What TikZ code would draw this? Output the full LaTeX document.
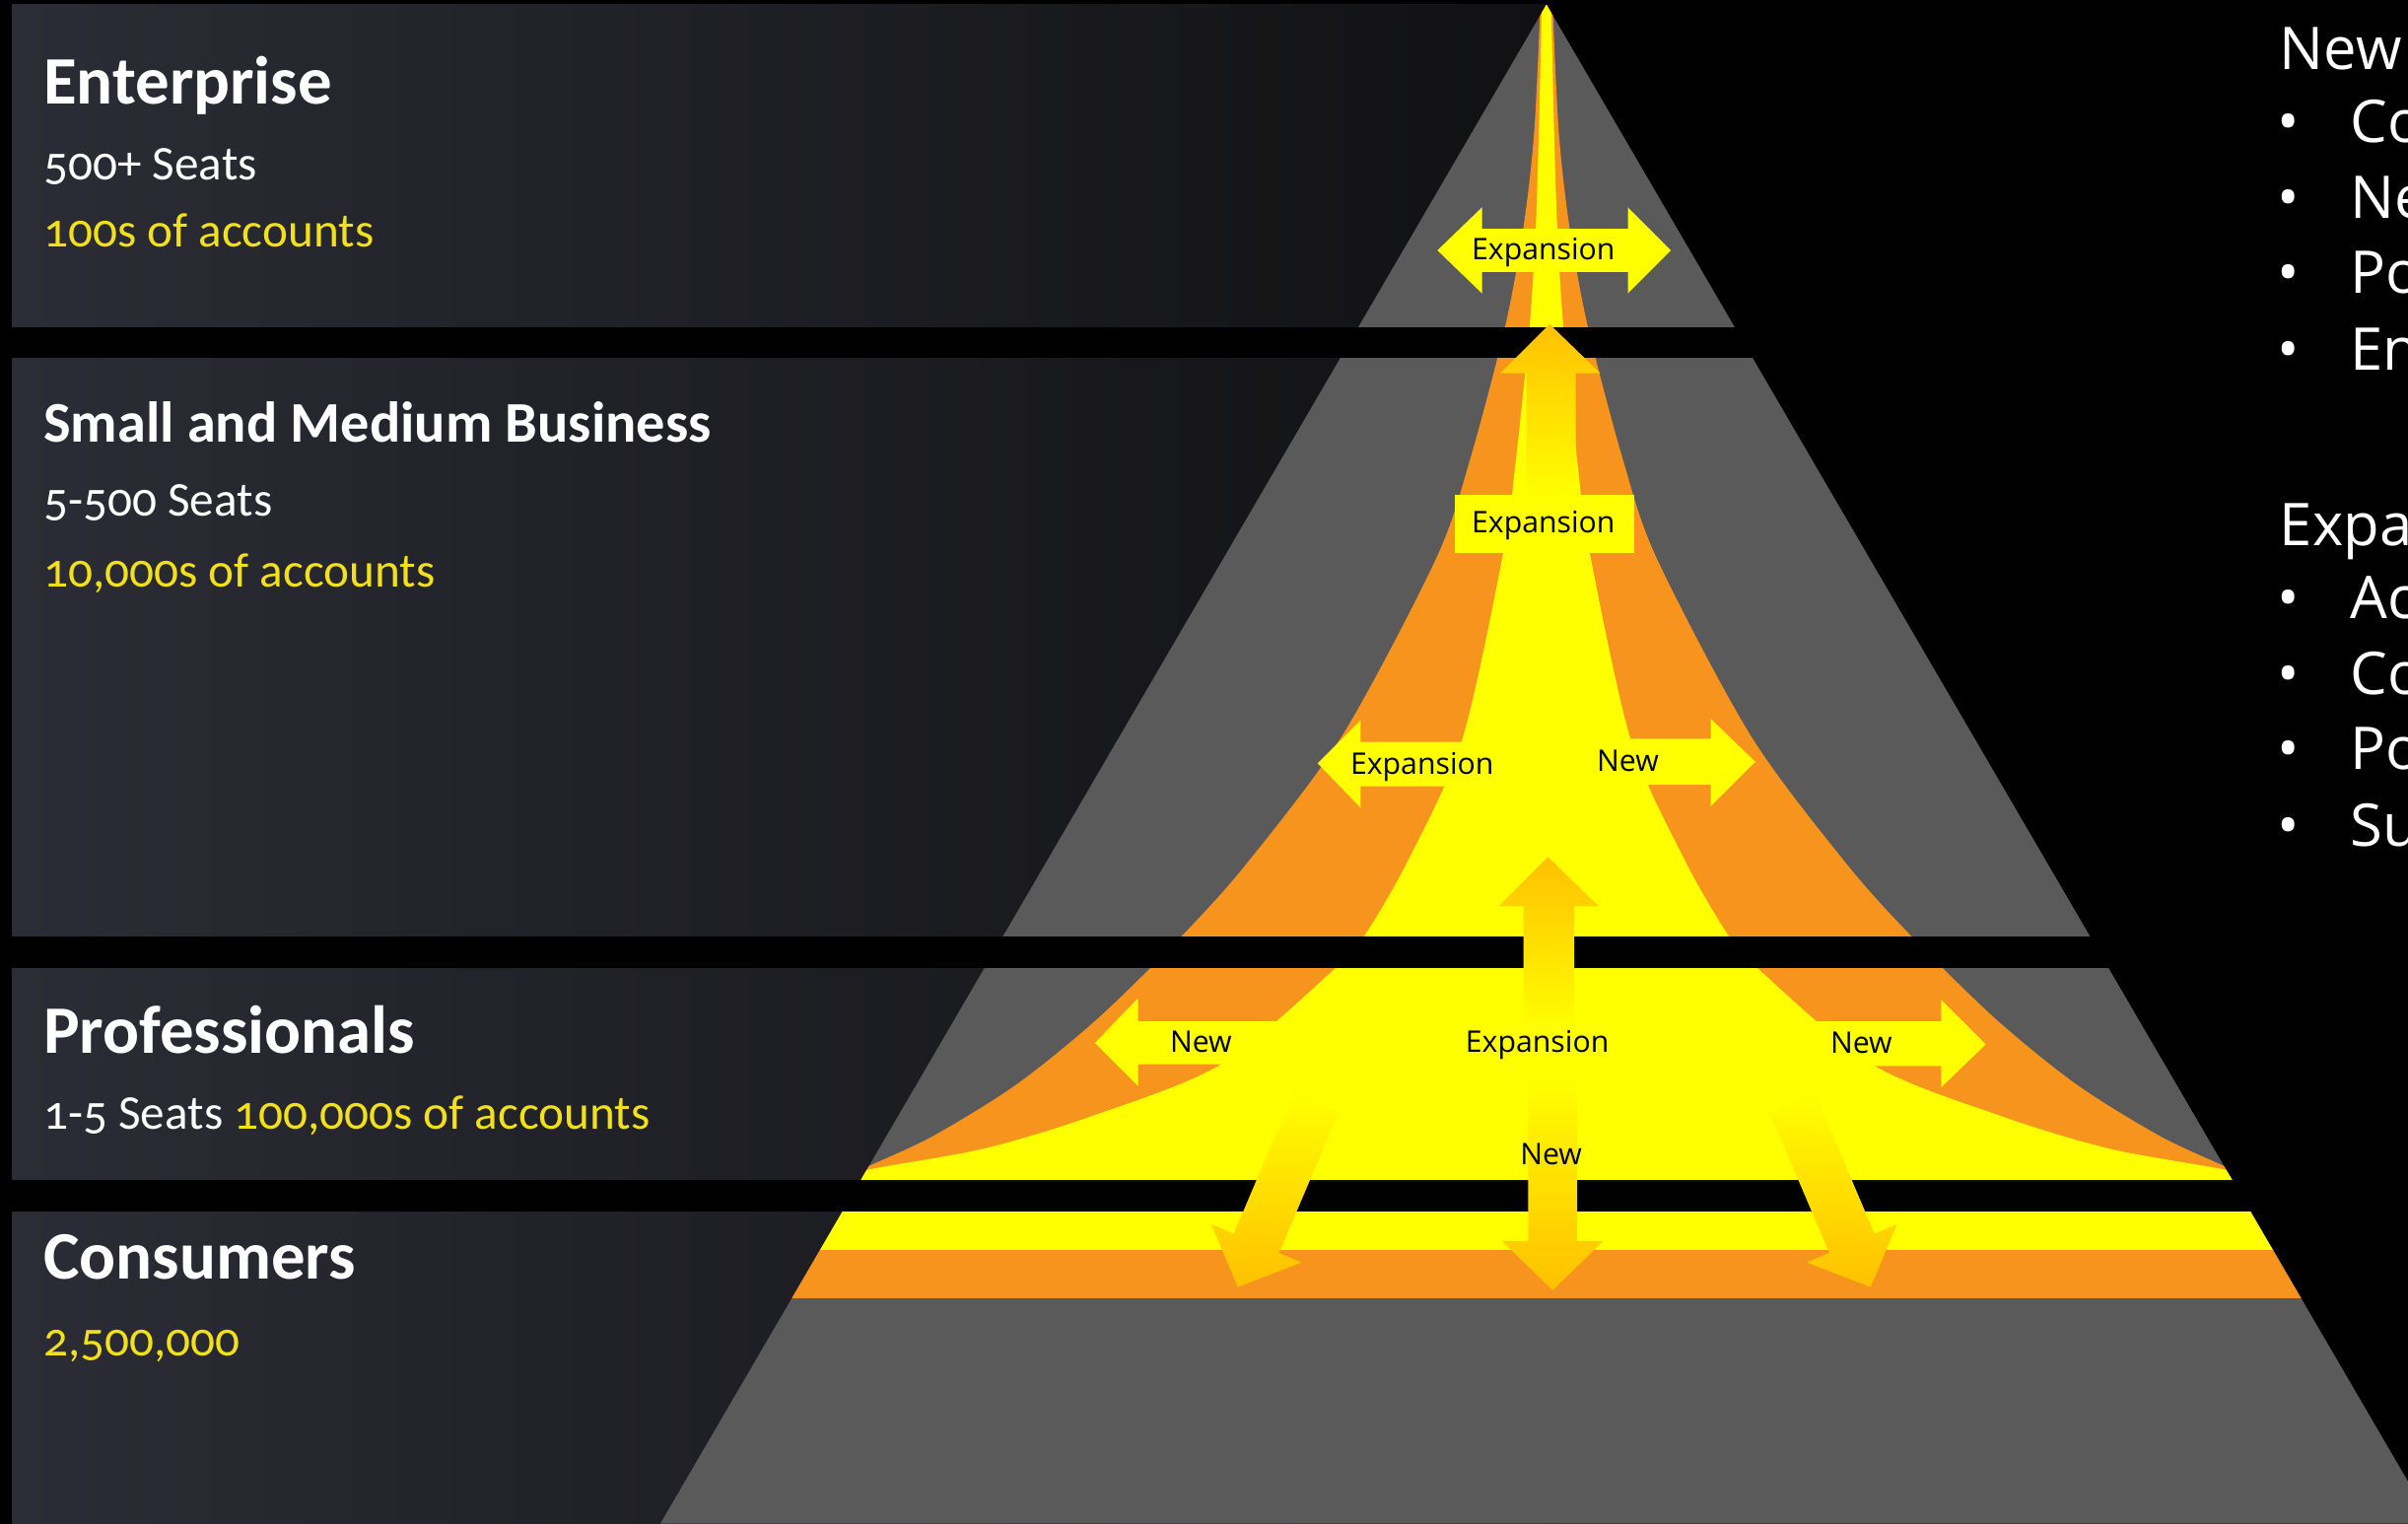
\documentclass[tikz,border=0pt]{standalone}
\usepackage{fontspec}
\setmainfont{Carlito}[Numbers=OldStyle]
\newfontfamily\sidefont{Open Sans}
\usetikzlibrary{arrows.meta, positioning}
\usepackage{xcolor}

\definecolor{bandleft}{HTML}{2B2C35}
\definecolor{bandright}{HTML}{111113}
\definecolor{pyrgray}{HTML}{5A5A5A}
\definecolor{flameorange}{HTML}{F7941D}
\definecolor{flameyellow}{HTML}{FFFF00}
\definecolor{arrowgold}{HTML}{FFC000}
\definecolor{acctyellow}{HTML}{F2E01C}

\tikzset{
  band/.style={left color=bandleft, right color=bandright},
  tiername/.style={anchor=base west, text=white, inner sep=0pt, font=\bfseries\fontsize{19.6}{22}\selectfont},
  tierinfo/.style={anchor=base west, text=white, inner sep=0pt, font=\fontsize{14}{17}\selectfont},
  flowlabel/.style={anchor=base, text=black, inner sep=0pt, font=\sidefont\fontsize{8.6}{10}\selectfont},
  sidetext/.style={anchor=base west, text=white, inner sep=0pt, font=\sidefont\fontsize{17}{20}\selectfont},
  upgold/.style={top color=arrowgold, bottom color=flameyellow},
  downgold/.style={top color=flameyellow, bottom color=arrowgold},
}

\begin{document}
\begin{tikzpicture}[x=0.01558cm, y=-0.01558cm]
            \useasboundingbox (0,0) rectangle (1568,992);
            \clip (0,0) rectangle (1568,992);
            \fill[black] (0,0) rectangle (1568,992);
            % tier bands
            \shade[band] (8,3) rectangle (1007,213);
            \shade[band] (8,233) rectangle (1007,610);
            \shade[band] (8,630) rectangle (1007,768);
            \shade[band] (8,789) rectangle (1007,992);
            % pyramid
            \fill[pyrgray] (1007,3) -- (430,992) -- (1584,992) -- cycle;
            \begin{scope}
                \clip (1007,3) -- (430,992) -- (1584,992) -- cycle;
                \fill[flameorange] plot[smooth] coordinates {(554,768) (560,762) (607,740) (662,706) (715,663) (769,610) (812,562) (874,479) (935,364) (957,300) (980,213) (992,148) (999,86) (1003,3)}
                    -- plot[smooth] coordinates {(1011,3) (1015,86) (1022,148) (1034,213) (1057,300) (1079,364) (1140,479) (1202,562) (1245,610) (1299,663) (1352,706) (1407,740) (1454,762) (1460,768)} -- cycle;
                \fill[flameyellow] plot[smooth] coordinates {(540,770) (563,762) (640,748) (710,727) (795,693) (870,630) (888,610) (917,560) (952,482) (979,359) (987,300) (996,213) (1000,148) (1002,86) (1004,3)}
                    -- plot[smooth] coordinates {(1010,3) (1012,86) (1014,148) (1018,213) (1027,300) (1035,359) (1062,482) (1097,560) (1126,610) (1144,630) (1219,693) (1304,727) (1374,748) (1451,762) (1474,770)} -- cycle;
                \fill[flameyellow] (400,789) rectangle (1600,814);
                \fill[flameorange] (400,814) rectangle (1600,845);
            \end{scope}
            % gaps between tiers
            \fill[black] (0,213) rectangle (1568,233);
            \fill[black] (0,610) rectangle (1568,630);
            \fill[black] (0,768) rectangle (1568,789);
            % arrows
            \fill[flameyellow] (936,163) -- (965,135) -- (965,149) -- (1060,149) -- (1060,135) -- (1088,163) -- (1060,191) -- (1060,177) -- (965,177) -- (965,191) -- cycle;
            \shade[upgold] (1009,211) -- (1042,243) -- (1026,243) -- (1026,324) -- (994,324) -- (994,243) -- (977,243) -- cycle;
            \node[flowlabel, anchor=center, fill=flameyellow, minimum width=1.82cm, minimum height=0.59cm] (smbbox) at (1005.5,341) {};
            \fill[flameyellow] (858,497) -- (886,469) -- (886,483) -- (985,483) -- (985,512) -- (886,512) -- (886,526) -- cycle;
            \fill[flameyellow] (1143,496) -- (1114,468) -- (1114,481) -- (1030,481) -- (1030,511) -- (1114,511) -- (1114,525) -- cycle;
            \shade[upgold] (1008,558) -- (1041,590) -- (1025,590) -- (1025,672) -- (992,672) -- (992,590) -- (976,590) -- cycle;
            \fill[flameyellow] (713,679) -- (741,650) -- (741,665) -- (850,665) -- (850,693) -- (741,693) -- (741,707) -- cycle;
            \fill[flameyellow] (1293,680) -- (1264,651) -- (1264,665) -- (1170,665) -- (1170,694) -- (1264,694) -- (1264,708) -- cycle;
            \shade[downgold] (995,700) -- (1027,700) -- (1027,808) -- (1044,808) -- (1011,840) -- (978,808) -- (995,808) -- cycle;
            \shade[downgold] (842.3,711.7) -- (803.4,803.2) -- (788.7,797.0) -- (806,838) -- (847.5,822.0) -- (832.8,815.8) -- (871.7,724.3) -- cycle;
            \shade[downgold] (1181.7,711.7) -- (1220.6,803.2) -- (1235.3,797.0) -- (1218,838) -- (1176.5,822.0) -- (1191.2,815.8) -- (1152.3,724.3) -- cycle;
            % arrow labels
            \node[flowlabel] (entexp) at (1005,169) {Expansion};
            \node[flowlabel] (smbexp) at (1005,347) {Expansion};
            \node[flowlabel] (smbexpl) at (926,504) {Expansion};
            \node[flowlabel] (smbnew) at (1060,502) {New};
            \node[flowlabel] (pronewl) at (782,685) {New};
            \node[flowlabel] (proexp) at (1001,685) {Expansion};
            \node[flowlabel] (pronewr) at (1212,686) {New};
            \node[flowlabel] (pronewd) at (1010,758) {New};
            % tier texts
            \node[tiername] (ent) at (28,68) {Enterprise};
            \node[tierinfo] (entseats) at (28,117) {500+ Seats};
            \node[tierinfo, text=acctyellow] (entacc) at (28,161) {100s of accounts};
            \node[tiername, font=\bfseries\fontsize{16.6}{20}\selectfont] (smb) at (28,288) {Small and Medium Business};
            \node[tierinfo] (smbseats) at (28,336) {5-500 Seats};
            \node[tierinfo, text=acctyellow] (smbacc) at (28,382) {10,000s of accounts};
            \node[tiername] (pro) at (28,686) {Professionals};
            \node[tierinfo] (proseats) at (28,735) {1-5 Seats \textcolor{acctyellow}{100,000s of accounts}};
            \node[tiername] (con) at (28,833) {Consumers};
            \node[tierinfo, text=acctyellow] (conacc) at (28,883) {2,500,000};
            % side lists
            \node[sidetext] (newhead) at (1484,45) {New};
            \foreach \y/\t [count=\i] in {93/Co, 142/Ne, 191/Po, 241/En} {
                \node[sidetext, anchor=base] (newdot\i) at (1490,\y) {•};
                \node[sidetext] (newitem\i) at (1530,\y) {\t};
            }
            \node[sidetext] (exphead) at (1484,355) {Expa};
            \foreach \y/\t [count=\i] in {403/Ac, 452/Co, 501/Po, 551/Su} {
                \node[sidetext, anchor=base] (expdot\i) at (1490,\y) {•};
                \node[sidetext] (expitem\i) at (1530,\y) {\t};
            }
        \end{tikzpicture}
\end{document}
